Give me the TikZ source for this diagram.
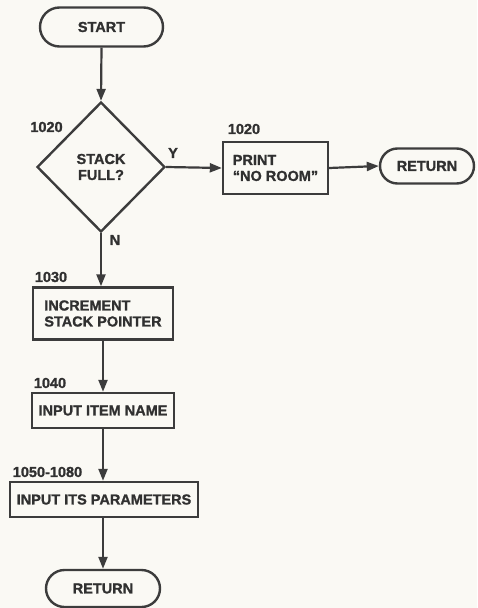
\documentclass[tikz,border=0pt]{standalone}
\usepackage{fontspec}
\setmainfont{Liberation Sans}[BoldFeatures={FakeBold=1.2}]
\usetikzlibrary{shapes.geometric,shapes.misc,arrows.meta}
\definecolor{ink}{HTML}{3C3C3C}
\definecolor{txt}{HTML}{303030}
\definecolor{paper}{HTML}{FAF9F4}
\begin{document}
\begin{tikzpicture}[x=1pt,y=-1pt,
  every node/.style={font=\fontsize{14.5}{16}\selectfont\bfseries, text=txt},
  term/.style={draw=ink, line width=2.4pt, rounded rectangle, inner sep=0pt},
  procbox/.style={draw=ink, line width=2.4pt, rectangle, inner sep=0pt, align=left},
  decision/.style={draw=ink, line width=2.4pt, diamond, inner sep=0pt, align=center},
  lbl/.style={inner sep=0pt},
  flow/.style={draw=ink, line width=2.2pt, -{Triangle[length=12pt,width=9pt]}}]
\fill[paper] (0,0) rectangle (477,608);
\useasboundingbox (0,0) rectangle (477,608);

\node[term, minimum width=123pt, minimum height=39pt] (start) at (101.5,27) {START};
\node[decision, minimum width=128pt, minimum height=130pt] (full) at (101,167) {STACK\\FULL?};
\node[procbox, minimum width=105pt, minimum height=52pt] (print) at (275.5,168) {PRINT\\“NO ROOM”};
\node[term, minimum width=94pt, minimum height=35pt] (ret1) at (427,166) {RETURN};
\node[procbox, minimum width=140pt, minimum height=52pt] (incr) at (103,313.5) {INCREMENT\\STACK POINTER};
\node[procbox, minimum width=142pt, minimum height=35pt] (item) at (103,410.5) {INPUT ITEM NAME};
\node[procbox, minimum width=188pt, minimum height=35pt] (params) at (104,499.5) {INPUT ITS PARAMETERS};
\node[term, minimum width=114pt, minimum height=37pt] (ret2) at (103,588.5) {RETURN};

\node[lbl] (l1) at (46.5,127) {1020};
\node[lbl] (l2) at (244,129) {1020};
\node[lbl] (ly) at (173,153) {Y};
\node[lbl] (ln) at (115,240) {N};
\node[lbl] (l3) at (51,277) {1030};
\node[lbl] (l4) at (50,383) {1040};
\node[lbl] (l5) at (47.5,472) {1050-1080};

\draw[flow] (start.south) -- (full.north);
\draw[flow] (full.east) -- (print.west);
\draw[flow] (print.east) -- (ret1.west);
\draw[flow] (full.south) -- (full.south |- incr.north);
\draw[flow] (incr.south) -- (incr.south |- item.north);
\draw[flow] (item.south) -- (item.south |- params.north);
\draw[flow] (item.south |- params.south) -- (item.south |- ret2.north);
\end{tikzpicture}
\end{document}
